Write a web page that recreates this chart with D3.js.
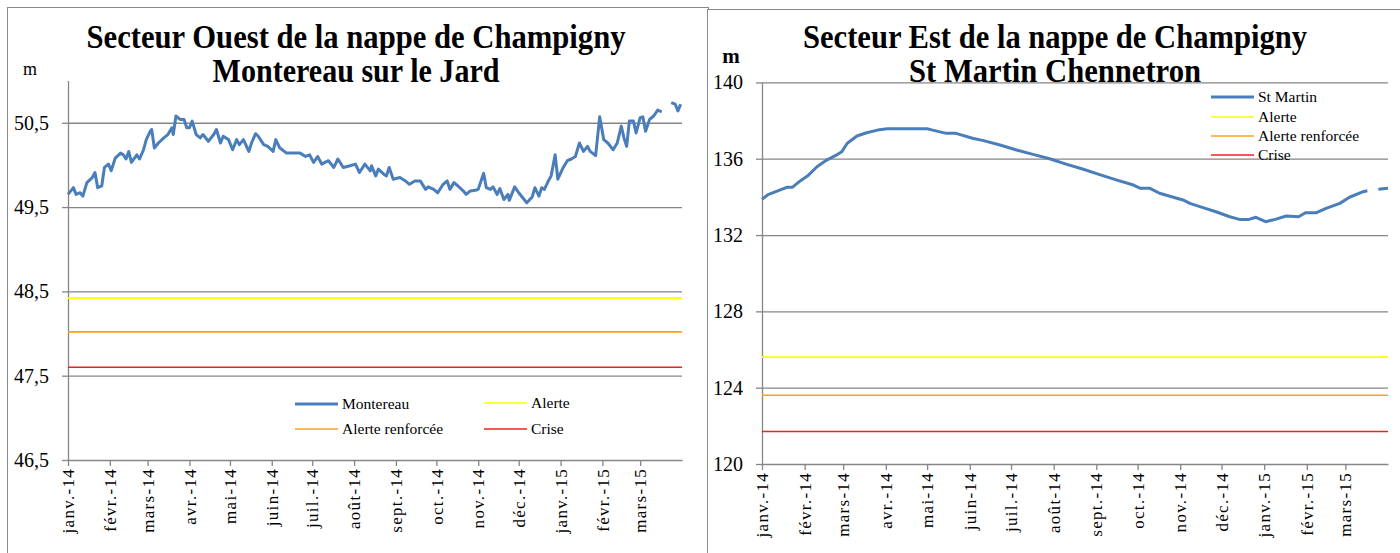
<!DOCTYPE html>
<html>
<head>
<meta charset="utf-8">
<script src="https://cdn.jsdelivr.net/npm/d3@7"></script>
<style>
  body { margin: 0; background: #fff; }
  svg { display: block; }
  svg text { font-family: "Liberation Serif", "Times New Roman", serif; fill: #000; }
  .axis path, .axis line { stroke: #868686; stroke-width: 1.3; }
  .grid line { stroke: #868686; stroke-width: 1.3; }
  .grid path { display: none; }
</style>
</head>
<body>
<svg id="chart" width="1400" height="553"></svg>
<script>
// tick labels (month starts, jan 2014 -> mar 2015)
const monthLabels = ["janv.-14", "févr.-14", "mars-14", "avr.-14", "mai-14", "juin-14", "juil.-14",
  "août-14", "sept.-14", "oct.-14", "nov.-14", "déc.-14", "janv.-15", "févr.-15", "mars-15"];
const legendNames = ["Alerte", "Alerte renforcée", "Crise"];

// Montereau sur le Jard : day offset from 1 jan 2014, level (m), null = gap
const ouestDays = [0, 3, 4, 6, 9, 11, 14, 18, 20, 22, 25, 27, 30, 32, 35, 39, 41, 43, 45, 47, 51, 53, 56, 58,
  61, 62, 64, 67, 71, 74, 77, 78, 80, 83, 86, 88, 90, 92, 95, 98, 100, 104, 108, 110, 113, 115, 119, 122,
  125, 127, 130, 134, 136, 139, 141, 145, 148, 152, 154, 157, 162, 167, 172, 176, 179, 182, 185, 188, 193,
  197, 200, 204, 209, 213, 216, 220, 224, 225, 228, 230, 234, 236, 238, 241, 246, 250, 253, 257, 261, 265,
  267, 271, 274, 278, 281, 283, 286, 289, 293, 295, 298, 302, 304, 308, 310, 313, 315, 318, 320, 323, 326,
  327, 331, 334, 337, 340, 344, 346, 349, 351, 353, 356, 358, 361, 363, 367, 370, 373, 376, 379, 382, 385,
  387, 391, 394, 397, 400, 404, 407, 410, 412, 414, 416, 419, 421, 424, 426, 428, 431, 434, 437, 440, 444,
  447, 450, 452, 454];
const ouestLevels = [49.65, 49.71, 49.73, 49.65, 49.67, 49.63, 49.79, 49.85, 49.91, 49.73, 49.75, 49.97,
  50.01, 49.93, 50.08, 50.14, 50.12, 50.07, 50.16, 50.03, 50.12, 50.07, 50.18, 50.30, 50.40, 50.42, 50.20,
  50.26, 50.32, 50.36, 50.44, 50.36, 50.58, 50.54, 50.54, 50.44, 50.44, 50.52, 50.36, 50.32, 50.36, 50.28,
  50.36, 50.42, 50.26, 50.34, 50.30, 50.18, 50.30, 50.24, 50.30, 50.16, 50.26, 50.37, 50.34, 50.24, 50.22,
  50.16, 50.30, 50.20, 50.14, 50.14, 50.14, 50.10, 50.12, 50.03, 50.10, 50.01, 50.05, 49.97, 50.07, 49.97,
  49.99, 50.01, 49.91, 50.01, 49.93, 49.99, 49.87, 49.95, 49.89, 49.87, 49.97, 49.83, 49.85, 49.81, 49.77,
  49.81, 49.81, 49.71, 49.74, 49.71, 49.67, 49.77, 49.81, 49.71, 49.79, 49.75, 49.69, 49.65, 49.69, 49.70,
  49.71, 49.90, 49.73, 49.71, 49.74, 49.65, 49.72, 49.59, 49.65, 49.58, 49.74, 49.67, 49.61, 49.55, 49.62,
  49.73, 49.63, 49.73, 49.71, 49.81, 49.87, 50.12, 49.83, 49.97, 50.05, 50.07, 50.10, 50.26, 50.16, 50.22,
  50.16, 50.11, 50.57, 50.30, 50.26, 50.18, 50.26, 50.46, 50.32, 50.22, 50.52, 50.52, 50.38, 50.56, 50.57,
  50.40, 50.54, 50.58, 50.65, 50.63, null, 50.74, 50.72, 50.64, 50.72];
const ouestThresholds = [48.42, 48.02, 47.60];

// St Martin Chennetron
const estDays = [0, 4, 10, 18, 22, 28, 33, 40, 47, 55, 58, 62, 69, 76, 84, 91, 105, 120, 124, 134, 141, 153,
  161, 173, 185, 197, 209, 221, 233, 246, 258, 270, 275, 282, 289, 299, 306, 311, 320, 330, 340, 347, 354,
  359, 366, 373, 381, 390, 395, 403, 410, 420, 427, 437, 440, 444, 448, 455];
const estLevels = [133.87, 134.10, 134.27, 134.50, 134.50, 134.85, 135.09, 135.58, 135.93, 136.23, 136.37,
  136.81, 137.19, 137.36, 137.50, 137.57, 137.57, 137.57, 137.50, 137.33, 137.33, 137.07, 136.95, 136.72,
  136.46, 136.23, 136.00, 135.72, 135.46, 135.15, 134.88, 134.62, 134.45, 134.45, 134.19, 133.98, 133.84,
  133.66, 133.45, 133.22, 132.96, 132.82, 132.82, 132.93, 132.70, 132.82, 133.00, 132.96, 133.17, 133.17,
  133.40, 133.66, 133.98, 134.27, 134.32, null, 134.40, 134.45];
const estThresholds = [125.6, 123.6, 121.7];

const lineColors = ["#FFFF00", "#FFA020", "#F02020"];
const blue = "#4A7EBB";
const start = new Date(2014, 0, 1);
const end = new Date(2015, 3, 1);
const months = d3.timeMonth.range(start, new Date(2015, 2, 2));
const fr = d3.formatLocale({decimal: ",", thousands: " ", grouping: [3], currency: ["", " €"]});

const svg = d3.select("#chart");

// chart frames
svg.append("rect").attr("x", 7.5).attr("y", 7.5).attr("width", 701).attr("height", 560)
  .attr("fill", "none").attr("stroke", "#8a8a8a");
svg.append("rect").attr("x", 707.5).attr("y", 9.5).attr("width", 720).attr("height", 560)
  .attr("fill", "white").attr("stroke", "#8a8a8a");

function panel(cfg) {
  const x = d3.scaleTime().domain([start, end]).range([cfg.x0, cfg.x1]);
  const y = d3.scaleLinear().domain(cfg.domain).range([cfg.y0, cfg.y1]);
  const g = svg.append("g");

  g.append("g").attr("class", "grid")
    .attr("transform", `translate(${cfg.x0},0)`)
    .call(d3.axisLeft(y).tickValues(cfg.ticks.slice(1)).tickSize(-(cfg.x1 - cfg.x0)).tickFormat(""));

  const ya = g.append("g").attr("class", "axis")
    .attr("transform", `translate(${cfg.x0},0)`)
    .call(d3.axisLeft(y).tickValues(cfg.ticks).tickSizeInner(6).tickSizeOuter(0).tickPadding(13)
      .tickFormat(cfg.fmt));
  ya.attr("font-family", null);
  ya.selectAll("text").style("font-size", "20px");

  const xa = g.append("g").attr("class", "axis")
    .attr("transform", `translate(0,${cfg.y0})`)
    .call(d3.axisBottom(x).tickValues(months).tickSizeInner(6).tickSizeOuter(0)
      .tickFormat((d, i) => monthLabels[i]));
  xa.attr("font-family", null);
  xa.selectAll("text")
    .attr("transform", "rotate(-90)")
    .attr("text-anchor", "end")
    .attr("x", -8).attr("y", 0).attr("dy", "0.33em")
    .style("font-size", "17px").style("letter-spacing", "1.3px");

  // threshold lines
  g.selectAll(".thr").data(cfg.thresholds).enter().append("line")
    .attr("x1", cfg.x0).attr("x2", cfg.x1)
    .attr("y1", d => y(d)).attr("y2", d => y(d))
    .attr("stroke", (d, i) => lineColors[i]).attr("stroke-width", 1.6);

  // level series
  const pts = cfg.days.map((d, i) => ({date: d3.timeDay.offset(start, d), v: cfg.levels[i]}));
  g.append("path").datum(pts)
    .attr("fill", "none").attr("stroke", blue).attr("stroke-width", 3)
    .attr("stroke-linejoin", "round")
    .attr("d", d3.line().defined(d => d.v !== null).x(d => x(d.date)).y(d => y(d.v)));

  // titles
  cfg.titles.forEach((t, i) => {
    g.append("text").attr("x", cfg.tx).attr("y", cfg.ty[i]).attr("text-anchor", "middle")
      .style("font-size", "33px").style("font-weight", "bold")
      .attr("textLength", cfg.tw[i]).attr("lengthAdjust", "spacingAndGlyphs")
      .text(t);
  });
  g.append("text").attr("x", cfg.mx).attr("y", cfg.my).attr("text-anchor", "middle")
    .style("font-size", cfg.mBold ? "21px" : "18px").style("font-weight", cfg.mBold ? "bold" : "normal")
    .text("m");

  // legend
  const items = [{name: cfg.series, color: blue, w: 3}]
    .concat(legendNames.map((n, i) => ({name: n, color: lineColors[i], w: 1.6})));
  const lg = g.append("g");
  items.forEach((it, i) => {
    const p = cfg.legendPos[i];
    lg.append("line").attr("x1", p[0]).attr("x2", p[0] + 43).attr("y1", p[1]).attr("y2", p[1])
      .attr("stroke", it.color).attr("stroke-width", it.w);
    lg.append("text").attr("x", p[0] + 47).attr("y", p[1]).attr("dy", "0.35em")
      .style("font-size", "15.5px").text(it.name);
  });
}

panel({
  x0: 68, x1: 682, y0: 460, y1: 80.6, domain: [46.5, 51],
  ticks: [46.5, 47.5, 48.5, 49.5, 50.5], fmt: fr.format(".1f"),
  days: ouestDays, levels: ouestLevels, thresholds: ouestThresholds,
  titles: ["Secteur Ouest de la nappe de Champigny", "Montereau sur le Jard"],
  tx: 356, ty: [48, 82], tw: [539, 287],
  mx: 30, my: 75, mBold: false,
  series: "Montereau",
  legendPos: [[295, 404], [484, 403], [295, 429], [484, 429]]
});

panel({
  x0: 762, x1: 1388, y0: 464, y1: 82.4, domain: [120, 140],
  ticks: [120, 124, 128, 132, 136, 140], fmt: d3.format("d"),
  days: estDays, levels: estLevels, thresholds: estThresholds,
  titles: ["Secteur Est de la nappe de Champigny", "St Martin Chennetron"],
  tx: 1055, ty: [48, 82], tw: [504, 292],
  mx: 731, my: 63, mBold: true,
  series: "St Martin",
  legendPos: [[1211, 97], [1211, 117], [1211, 136], [1211, 155]]
});
</script>
</body>
</html>
